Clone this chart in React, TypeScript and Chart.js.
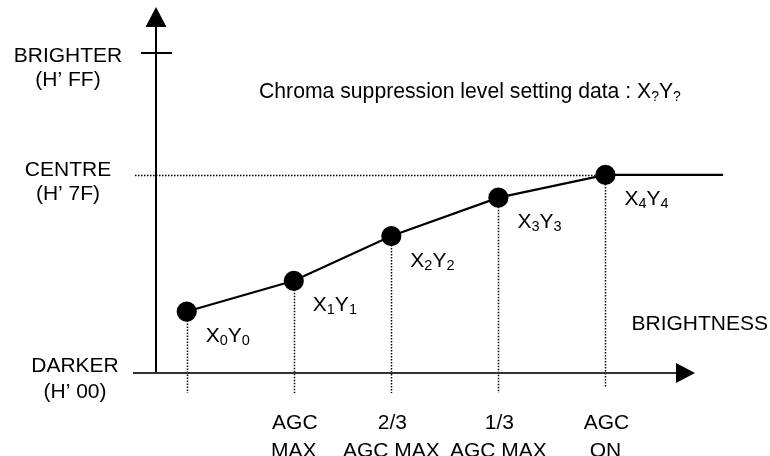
import React, { useEffect, useRef } from "react";
import { Chart, registerables } from "chart.js";

Chart.register(...registerables);

// ---- data ----
const pointIndex = ["0", "1", "2", "3", "4"];
const brightness = [0.29, 1.3, 2.22, 3.23, 4.24];
const chromaLevel = [19.2, 28.8, 42.8, 54.8, 61.9];
const flatEnd = 5.35;
const levelValues = [100, 61.9, 0];
const levelNames = ["BRIGHTER", "CENTRE", "DARKER"];
const levelCodes = ["(H\u2019 FF)", "(H\u2019 7F)", "(H\u2019 00)"];
const xTickTop = ["", "AGC", "2/3", "1/3", "AGC"];
const xTickBottom = ["", "MAX", "AGC MAX", "AGC MAX", "ON"];
const xAxisTitle = "BRIGHTNESS";
const titleText = "Chroma suppression level setting data : ";

// ---- layout ----
const W = 770;
const H = 456;
const ORIGIN_X = 156;
const ORIGIN_Y = 373;
const PX_PER_X = 106;
const PX_PER_Y = 3.2;
const FONT = "Arial, 'Liberation Sans', sans-serif";

type Part = { t: string; sub?: boolean };

function drawRich(ctx: CanvasRenderingContext2D, parts: Part[], x: number, y: number, size: number, subSize: number) {
  let cx = x;
  for (const p of parts) {
    ctx.font = `${p.sub ? subSize : size}px ${FONT}`;
    ctx.fillText(p.t, cx, p.sub ? y + 3 : y);
    cx += ctx.measureText(p.t).width;
  }
}

const diagramPlugin = {
  id: "diagram",
  beforeDatasetsDraw(chart: any) {
    const ctx: CanvasRenderingContext2D = chart.ctx;
    const xs = chart.scales.x;
    const ys = chart.scales.y;
    const ox = xs.getPixelForValue(0);
    const oy = ys.getPixelForValue(0);
    const topY = ys.getPixelForValue(100);
    ctx.save();
    ctx.strokeStyle = "#000";
    ctx.fillStyle = "#000";
    // dotted verticals
    ctx.lineWidth = 1.5;
    ctx.setLineDash([1.5, 1.5]);
    brightness.forEach((b, i) => {
      const px = Math.round(xs.getPixelForValue(b)) + 0.5;
      const py = ys.getPixelForValue(chromaLevel[i]);
      const end = i === brightness.length - 1 ? oy + 14 : oy + 20;
      ctx.beginPath();
      ctx.moveTo(px, py);
      ctx.lineTo(px, end);
      ctx.stroke();
    });
    // dotted centre line
    const cy = Math.round(ys.getPixelForValue(levelValues[1])) + 0.5;
    ctx.beginPath();
    ctx.moveTo(ox - 21, cy);
    ctx.lineTo(xs.getPixelForValue(brightness[brightness.length - 1]), cy);
    ctx.stroke();
    ctx.setLineDash([]);
    // y axis
    ctx.lineWidth = 2;
    ctx.beginPath();
    ctx.moveTo(ox, oy);
    ctx.lineTo(ox, topY - 26);
    ctx.stroke();
    ctx.beginPath();
    ctx.moveTo(ox, topY - 46);
    ctx.lineTo(ox - 10.5, topY - 26);
    ctx.lineTo(ox + 10.5, topY - 26);
    ctx.closePath();
    ctx.fill();
    // brighter tick
    ctx.beginPath();
    ctx.moveTo(ox - 15, topY);
    ctx.lineTo(ox + 16, topY);
    ctx.stroke();
    // x axis
    ctx.strokeStyle = "#333";
    ctx.beginPath();
    ctx.moveTo(ox - 23, oy);
    ctx.lineTo(ox + 522, oy);
    ctx.stroke();
    ctx.beginPath();
    ctx.moveTo(ox + 539, oy);
    ctx.lineTo(ox + 520, oy - 10);
    ctx.lineTo(ox + 520, oy + 10);
    ctx.closePath();
    ctx.fill();
    ctx.restore();
  },
  afterDatasetsDraw(chart: any) {
    const ctx: CanvasRenderingContext2D = chart.ctx;
    const xs = chart.scales.x;
    const ys = chart.scales.y;
    ctx.save();
    ctx.fillStyle = "#000";
    ctx.textBaseline = "alphabetic";
    // level labels
    const labelX = [68, 68, 75];
    const nameDy = [9, 1, -1];
    const codeDy = [33, 25, 25];
    ctx.font = `21px ${FONT}`;
    ctx.textAlign = "center";
    levelValues.forEach((v, i) => {
      const py = ys.getPixelForValue(v);
      ctx.fillText(levelNames[i], labelX[i], py + nameDy[i]);
      ctx.fillText(levelCodes[i], labelX[i], py + codeDy[i]);
    });
    // x tick labels
    const oy = ys.getPixelForValue(0);
    brightness.forEach((b, i) => {
      const px = xs.getPixelForValue(b);
      ctx.fillText(xTickTop[i], px + 1, oy + 56);
      ctx.fillText(xTickBottom[i], px, oy + 84);
    });
    // x axis title
    ctx.textAlign = "right";
    ctx.fillText(xAxisTitle, 768, oy - 43);
    // point labels
    ctx.textAlign = "left";
    brightness.forEach((b, i) => {
      const px = xs.getPixelForValue(b);
      const py = ys.getPixelForValue(chromaLevel[i]);
      drawRich(ctx, [{ t: "X" }, { t: pointIndex[i], sub: true }, { t: "Y" }, { t: pointIndex[i], sub: true }], px + 19, py + 30.5, 21, 14.5);
    });
    // title
    drawRich(ctx, [{ t: titleText }, { t: "X" }, { t: "?", sub: true }, { t: "Y" }, { t: "?", sub: true }], 259, 97.5, 21.2, 14);
    ctx.restore();
  },
};

export default function App() {
  const ref = useRef<HTMLCanvasElement | null>(null);
  useEffect(() => {
    if (!ref.current) return;
    const pts = brightness.map((b, i) => ({ x: b, y: chromaLevel[i] }));
    pts.push({ x: flatEnd, y: chromaLevel[chromaLevel.length - 1] });
    const radii = brightness.map(() => 9).concat([0]);
    const chart = new Chart(ref.current, {
      type: "scatter",
      data: {
        datasets: [
          {
            data: pts,
            showLine: true,
            borderColor: "#000",
            borderWidth: 2.2,
            backgroundColor: "#000",
            pointBackgroundColor: "#000",
            pointBorderColor: "#000",
            pointRadius: radii,
            pointHoverRadius: radii,
            tension: 0,
            clip: false as any,
          },
        ],
      },
      options: {
        responsive: false,
        animation: false,
        events: [],
        layout: { padding: 0, autoPadding: false },
        plugins: { legend: { display: false }, tooltip: { enabled: false } },
        scales: {
          x: { type: "linear", display: false, min: -ORIGIN_X / PX_PER_X, max: (W - ORIGIN_X) / PX_PER_X },
          y: { type: "linear", display: false, min: -(H - ORIGIN_Y) / PX_PER_Y, max: ORIGIN_Y / PX_PER_Y },
        },
      },
      plugins: [diagramPlugin],
    });
    return () => chart.destroy();
  }, []);
  return (
    <div style={{ position: "fixed", left: 0, top: 0, width: W, height: H, background: "#fff" }}>
      <canvas ref={ref} width={W} height={H} style={{ display: "block" }} />
    </div>
  );
}
